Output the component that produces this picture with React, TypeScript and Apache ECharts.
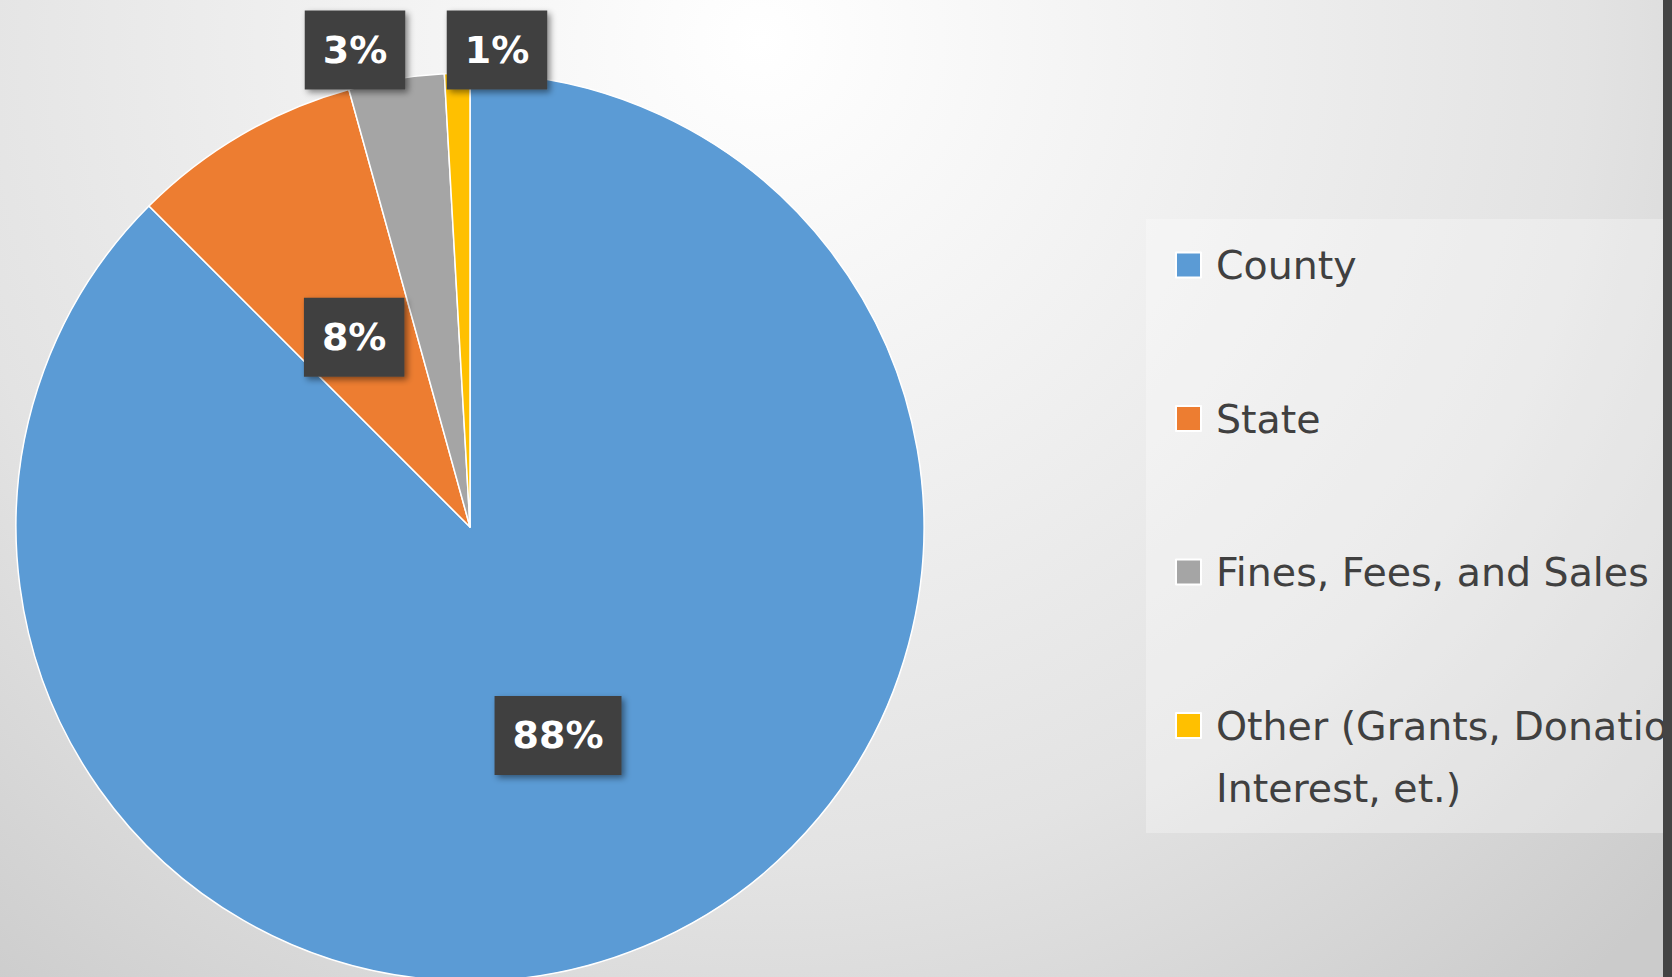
import React, { useEffect, useRef } from 'react';
import * as echarts from 'echarts';

const categories = [
  'County',
  'State',
  'Fines, Fees, and Sales',
  'Other (Grants, Donations,\nInterest, et.)',
];
const shares = [87.5, 8.2, 3.4, 0.9];
const sliceColors = ['#5B9BD5', '#ED7D31', '#A5A5A5', '#FFC000'];

const W = 1672;
const H = 977;
const FONT = 'DejaVu Sans';
const BLANK = '\u00a0';

export default function App() {
  const ref = useRef<HTMLDivElement>(null);

  useEffect(() => {
    document.body.style.margin = '0';
    const chart = echarts.init(ref.current as HTMLDivElement, null, { renderer: 'svg' });

    chart.setOption({
      animation: false,
      graphic: [
        {
          type: 'rect',
          z: -100,
          silent: true,
          shape: { x: 0, y: 0, width: W, height: H },
          style: {
            fill: {
              type: 'radial',
              x: 760,
              y: 40,
              r: 1250,
              global: true,
              colorStops: [
                { offset: 0, color: '#ffffff' },
                { offset: 0.12, color: '#fafafa' },
                { offset: 0.66, color: '#e3e3e3' },
                { offset: 1, color: '#cbcbcb' },
              ],
            },
          },
        },
        {
          type: 'rect',
          z: -90,
          silent: true,
          shape: { x: 1146, y: 219, width: W - 1146, height: 614 },
          style: { fill: 'rgba(255,255,255,0.3)' },
        },
        {
          type: 'rect',
          z: 100,
          silent: true,
          shape: { x: 1663, y: 0, width: W - 1663, height: H },
          style: { fill: '#444444' },
        },
      ],
      legend: {
        orient: 'vertical',
        left: 1175,
        top: 172,
        padding: 0,
        icon: 'rect',
        itemWidth: 25,
        itemHeight: 25,
        itemGap: -32.5,
        selectedMode: false,
        // every entry is laid out as three lines so that the first line of the
        // wrapped last entry sits level with its marker
        formatter: (name: string) =>
          name.indexOf('\n') >= 0 ? BLANK + '\n' + name : BLANK + '\n' + name + '\n' + BLANK,
        textStyle: {
          fontFamily: FONT,
          fontSize: 39.5,
          color: '#404040',
          lineHeight: 62,
          padding: [0, 0, 0, 10],
        },
        data: categories,
      },
      series: [
        {
          type: 'pie',
          center: [470, 527],
          radius: 454,
          startAngle: 90,
          clockwise: true,
          avoidLabelOverlap: false,
          itemStyle: { borderColor: '#ffffff', borderWidth: 1.5 },
          label: {
            show: true,
            position: 'inside',
            formatter: (p: any) => Math.round(p.percent) + '%',
            color: '#ffffff',
            fontFamily: FONT,
            fontWeight: 'bold',
            fontSize: 38,
            lineHeight: 40,
            backgroundColor: '#404040',
            padding: [20, 18, 19, 18],
            shadowColor: 'rgba(0,0,0,0.45)',
            shadowBlur: 6,
            shadowOffsetX: 3,
            shadowOffsetY: 3,
          },
          labelLine: { show: false },
          labelLayout: (p: any) => {
            if (p.dataIndex === 2) return { x: 355, y: 50, align: 'center', verticalAlign: 'middle' };
            if (p.dataIndex === 3) return { x: 497, y: 50, align: 'center', verticalAlign: 'middle' };
            if (p.dataIndex === 1) return { dy: 9 };
            return { dy: -4 };
          },
          data: categories.map((name, i) => ({
            name,
            value: shares[i],
            itemStyle: { color: sliceColors[i] },
            label: i >= 2 ? { position: 'outside' } : undefined,
          })),
        },
      ],
    });

    return () => chart.dispose();
  }, []);

  return <div ref={ref} style={{ width: W, height: H }} />;
}
